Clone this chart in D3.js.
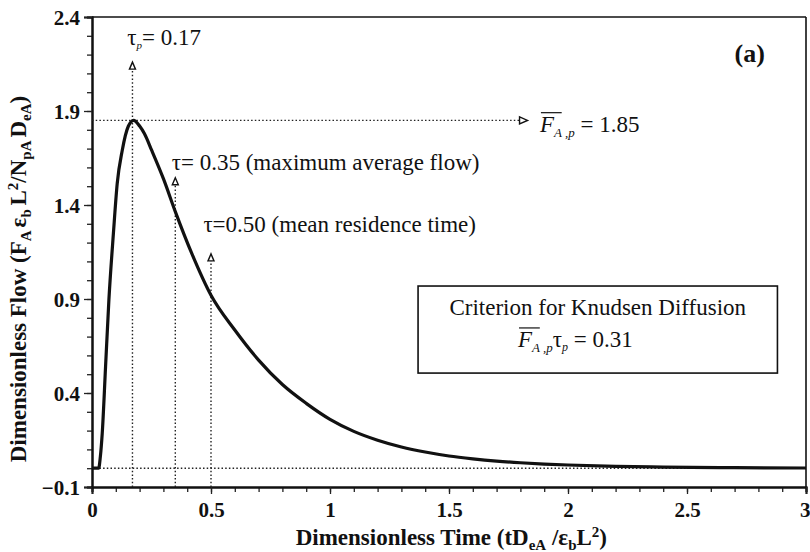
<!DOCTYPE html>
<html>
<head>
<meta charset="UTF-8">
<script src="https://d3js.org/d3.v7.min.js"></script>
<style>
  body { margin: 0; background: #fff; }
  svg text { font-family: "Liberation Serif", "Times New Roman", serif; }
</style>
</head>
<body>
<svg id="chart"></svg>
<script>
    // curve
    const timeVals = [0, 0.028, 0.035, 0.043, 0.057, 0.071, 0.090, 0.106, 0.127, 0.153, 0.175, 0.20, 0.22, 0.251, 0.30, 0.35, 0.42, 0.5, 0.6, 0.7, 0.8, 0.9, 1.0, 1.1, 1.2, 1.3, 1.4, 1.5, 1.6, 1.7, 1.8, 1.9, 2.0, 2.2, 2.4, 2.7, 3.0];
    const flowVals = [0, 0, 0.06, 0.185, 0.54, 0.895, 1.25, 1.515, 1.69, 1.82, 1.85, 1.82, 1.78, 1.69, 1.54, 1.365, 1.14, 0.92, 0.735, 0.575, 0.445, 0.345, 0.26, 0.196, 0.149, 0.113, 0.086, 0.065, 0.050, 0.038, 0.029, 0.022, 0.017, 0.010, 0.006, 0.003, 0.001];

    const xTicks = [0, 0.5, 1, 1.5, 2, 2.5, 3];
    const yTicks = [-0.1, 0.4, 0.9, 1.4, 1.9, 2.4];

    // marker lines: time, arrow tip level
    const markerTimes = [0.17, 0.35, 0.5];
    const markerTips = [2.16, 1.545, 1.14];
    const peakFlow = 1.85;
    const peakArrowEnd = 1.83;

    const W = 810, H = 552;
    const margin = { top: 17, right: 4, bottom: 65, left: 92 };
    const serif = '"Liberation Serif", "Times New Roman", serif';

    const svg = d3.select("#chart").attr("width", W).attr("height", H);
    const g = svg.append("g").attr("transform", `translate(${margin.left},${margin.top})`);
    const width = W - margin.left - margin.right,
          height = H - margin.top - margin.bottom;

    const x = d3.scaleLinear().domain([0, 3]).range([0, width]);
    const y = d3.scaleLinear().domain([-0.1, 2.4]).range([height, 0]);

    // frame top/right
    g.append("line").attr("x1", 0).attr("x2", width).attr("y1", 0).attr("y2", 0)
        .attr("stroke", "#111").attr("stroke-width", 1.6);
    g.append("line").attr("x1", width).attr("x2", width).attr("y1", 0).attr("y2", height)
        .attr("stroke", "#111").attr("stroke-width", 1.6);

    // axes
    const xAxis = g.append("g").attr("transform", `translate(0,${height})`)
        .call(d3.axisBottom(x).tickValues(d3.range(0, 3.001, 0.1)).tickSize(5).tickFormat(""));
    xAxis.append("g").call(d3.axisBottom(x).tickValues(xTicks).tickSize(7)
        .tickFormat(d => d3.format("")(d)));
    const yAxis = g.append("g")
        .call(d3.axisLeft(y).tickValues(d3.range(-0.1, 2.401, 0.1)).tickSize(5).tickFormat(""));
    yAxis.append("g").call(d3.axisLeft(y).tickValues(yTicks).tickSize(8)
        .tickFormat(d3.format(".1f")));

    g.selectAll(".domain").attr("stroke", "#111").attr("stroke-width", 2);
    g.selectAll(".tick line").attr("stroke", "#222").attr("stroke-width", 1.3);
    g.selectAll(".tick text").style("font-family", serif)
        .attr("font-weight", "bold").attr("font-size", 21).attr("fill", "#111");
    xAxis.selectAll(".tick text").attr("dy", "0.95em");
    xAxis.selectAll(".tick text").filter(d => d === 3).attr("text-anchor", "end").attr("dx", 4);
    yAxis.selectAll(".tick text").attr("dx", "-1px").attr("dy", "0.35em");

    const dotted = sel => sel.attr("stroke", "#222").attr("stroke-width", 1.4)
        .attr("stroke-dasharray", "1.5,2.2").attr("fill", "none");

    // baseline at zero
    g.append("line").attr("x1", x(0)).attr("x2", x(3)).attr("y1", y(0)).attr("y2", y(0)).call(dotted);
    // peak level arrow
    g.append("line").attr("x1", x(0)).attr("x2", x(peakArrowEnd) - 8)
        .attr("y1", y(peakFlow)).attr("y2", y(peakFlow)).call(dotted);
    g.append("path")
        .attr("d", `M${x(peakArrowEnd) - 8},${y(peakFlow) - 3.5}L${x(peakArrowEnd)},${y(peakFlow)}L${x(peakArrowEnd) - 8},${y(peakFlow) + 3.5}Z`)
        .attr("fill", "#fff").attr("stroke", "#111").attr("stroke-width", 1.4);

    // vertical markers
    markerTimes.forEach((t, i) => {
        g.append("line").attr("x1", x(t)).attr("x2", x(t))
            .attr("y1", y(-0.1)).attr("y2", y(markerTips[i]) + 7).call(dotted);
        g.append("path")
            .attr("d", `M${x(t) - 3},${y(markerTips[i]) + 7}L${x(t)},${y(markerTips[i])}L${x(t) + 3},${y(markerTips[i]) + 7}Z`)
            .attr("fill", "#fff").attr("stroke", "#111").attr("stroke-width", 1.4);
    });

    // curve
    const line = d3.line().x((d, i) => x(timeVals[i])).y(d => y(d)).curve(d3.curveMonotoneX);
    g.append("path").datum(flowVals).attr("d", line)
        .attr("fill", "none").attr("stroke", "#111").attr("stroke-width", 3.2)
        .attr("stroke-linejoin", "round");

    // annotation text
    const note = (px, py, size) => g.append("text").attr("x", px).attr("y", py)
        .style("font-family", serif).attr("font-size", size).attr("fill", "#111");

    const t1 = note(x(0.148), y(2.251), 23);
    t1.append("tspan").text("τ");
    t1.append("tspan").attr("font-size", 11).attr("font-style", "italic").attr("dy", 4).text("p");
    t1.append("tspan").attr("dy", -4).text("= 0.17");

    note(x(0.335), y(1.586), 23).text("τ= 0.35 (maximum average flow)");
    note(x(0.468), y(1.258), 23).text("τ=0.50  (mean residence time)");

    // F_A,p = 1.85
    const t4 = note(x(1.882), y(1.79), 23);
    t4.append("tspan").attr("font-style", "italic").text("F");
    t4.append("tspan").attr("font-style", "italic").attr("font-size", 13).attr("dy", 5).text("A ,p");
    t4.append("tspan").attr("dy", -5).text(" = 1.85");

    const overline = (textSel, n) => {
        const node = textSel.node();
        const a = node.getExtentOfChar(0), b = node.getExtentOfChar(n - 1);
        g.append("line").attr("x1", a.x + 1).attr("x2", b.x + b.width)
            .attr("y1", a.y + 1).attr("y2", a.y + 1)
            .attr("stroke", "#111").attr("stroke-width", 1.2);
    };
    overline(t4, 2);

    // (a)
    note(x(2.7), y(2.16), 26).attr("font-weight", "bold").text("(a)");

    // criterion box
    g.append("rect").attr("x", x(1.37)).attr("y", y(0.969))
        .attr("width", x(2.88) - x(1.37)).attr("height", y(0.506) - y(0.969))
        .attr("fill", "#fff").attr("stroke", "#111").attr("stroke-width", 1.6);
    note(x(2.125), y(0.815), 23).attr("text-anchor", "middle").text("Criterion for Knudsen Diffusion");
    const t5 = note(x(1.79), y(0.645), 23);
    t5.append("tspan").attr("font-style", "italic").text("F");
    t5.append("tspan").attr("font-style", "italic").attr("font-size", 13).attr("dy", 5).text("A ,p");
    t5.append("tspan").attr("dy", -5).text("τ");
    t5.append("tspan").attr("font-style", "italic").attr("font-size", 12).attr("dy", 4).text("p");
    t5.append("tspan").attr("dy", -4).text(" = 0.31");
    overline(t5, 2);

    // axis titles
    const sub = 15;
    const xt = svg.append("text").attr("x", margin.left + x(1.51)).attr("y", 545)
        .style("font-family", serif)
        .attr("text-anchor", "middle").attr("font-size", 23).attr("font-weight", "bold").attr("fill", "#111");
    xt.append("tspan").text("Dimensionless Time (tD");
    xt.append("tspan").attr("font-size", sub).attr("dy", 5).text("eA");
    xt.append("tspan").attr("dy", -5).text(" /ε");
    xt.append("tspan").attr("font-size", sub).attr("dy", 5).text("b");
    xt.append("tspan").attr("dy", -5).text("L");
    xt.append("tspan").attr("font-size", sub).attr("dy", -8).text("2");
    xt.append("tspan").attr("dy", 8).text(")");

    const yt = svg.append("text").attr("transform", `translate(26,279) rotate(-90)`)
        .style("font-family", serif)
        .attr("text-anchor", "middle").attr("font-size", 23).attr("font-weight", "bold").attr("fill", "#111");
    yt.append("tspan").text("Dimensionless Flow (F");
    yt.append("tspan").attr("font-size", sub).attr("dy", 5).text("A ");
    yt.append("tspan").attr("dy", -5).text("ε");
    yt.append("tspan").attr("font-size", sub).attr("dy", 5).text("b ");
    yt.append("tspan").attr("dy", -5).text("L");
    yt.append("tspan").attr("font-size", sub).attr("dy", -8).text("2");
    yt.append("tspan").attr("dy", 8).text("/N");
    yt.append("tspan").attr("font-size", sub).attr("dy", 5).text("pA ");
    yt.append("tspan").attr("dy", -5).text("D");
    yt.append("tspan").attr("font-size", sub).attr("dy", 5).text("eA");
    yt.append("tspan").attr("dy", -5).text(")");
</script>
</body>
</html>
